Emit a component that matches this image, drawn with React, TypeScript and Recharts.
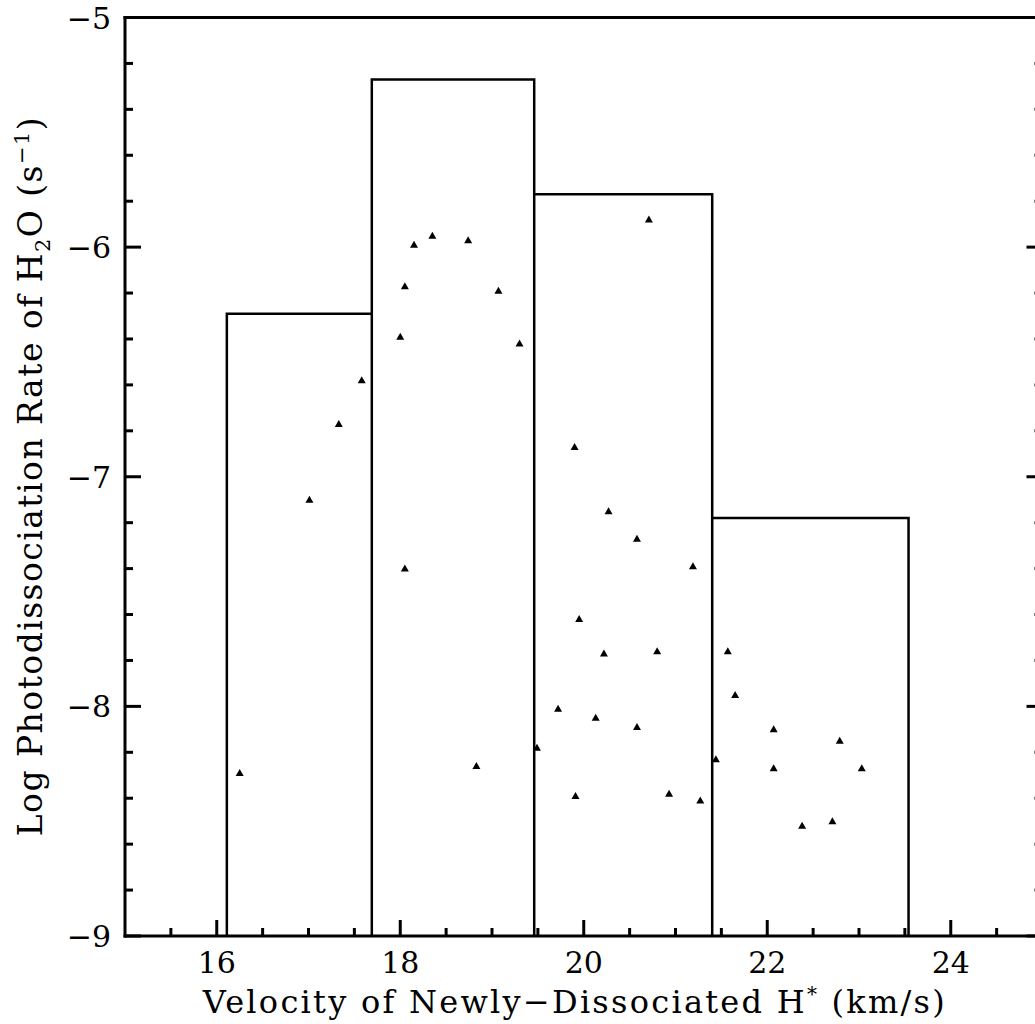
import { ComposedChart, Line, Scatter, XAxis, YAxis } from "recharts";

// histogram bins (km/s) and their log rates
const BIN_EDGES = [16.11, 17.69, 19.46, 21.4, 23.54];
const BIN_RATES = [-6.29, -5.27, -5.77, -7.18];

// individual transitions
const VELOCITY = [
  16.25, 17.01, 17.33, 17.58, 18.0, 18.05, 18.15, 18.35, 18.74, 19.07, 19.3,
  20.71, 18.05, 19.9, 20.27, 20.58, 19.95, 20.22, 20.8, 21.19, 21.57, 18.83,
  19.49, 19.72, 20.13, 20.58, 19.91, 20.93, 21.27, 21.44, 21.65, 22.07, 22.07,
  22.38, 22.71, 22.79, 23.03,
];
const LOG_RATE = [
  -8.29, -7.1, -6.77, -6.58, -6.39, -6.17, -5.99, -5.95, -5.97, -6.19, -6.42,
  -5.88, -7.4, -6.87, -7.15, -7.27, -7.62, -7.77, -7.76, -7.39, -7.76, -8.26,
  -8.18, -8.01, -8.05, -8.09, -8.39, -8.38, -8.41, -8.23, -7.95, -8.1, -8.27,
  -8.52, -8.5, -8.15, -8.27,
];

const X_TICKS = [
  15.5, 16, 16.5, 17, 17.5, 18, 18.5, 19, 19.5, 20, 20.5, 21, 21.5, 22, 22.5,
  23, 23.5, 24, 24.5,
];
const X_LABELS = [16, 18, 20, 22, 24];
const Y_TICKS = [
  -9, -8.8, -8.6, -8.4, -8.2, -8, -7.8, -7.6, -7.4, -7.2, -7, -6.8, -6.6, -6.4,
  -6.2, -6, -5.8, -5.6, -5.4, -5.2, -5,
];
const Y_LABELS = [-9, -8, -7, -6, -5];

const outline: { x: number; y: number }[] = [];
BIN_RATES.forEach((r, i) => {
  outline.push({ x: BIN_EDGES[i], y: -9 });
  outline.push({ x: BIN_EDGES[i], y: r });
  outline.push({ x: BIN_EDGES[i + 1], y: r });
  outline.push({ x: BIN_EDGES[i + 1], y: -9 });
});

const points = VELOCITY.map((v, i) => ({ x: v, y: LOG_RATE[i] }));

const FONT = "'DejaVu Serif', serif";
const MAJOR = 16;
const MINOR = 8;
const axisLine = { stroke: "#000", strokeWidth: 3, strokeLinecap: "square" as const };

const fmt = (v: number) => (v < 0 ? "\u2212" + Math.abs(v) : String(v));

function BottomTick({ x, y, payload }: any) {
  const v = payload.value;
  const major = X_LABELS.includes(v);
  return (
    <g>
      <line x1={x} x2={x} y1={y} y2={y - (major ? MAJOR : MINOR)} stroke="#000" strokeWidth={3} />
      {major && (
        <text x={x} y={y + 37} textAnchor="middle" fontFamily={FONT} fontSize={30} fill="#000">
          {v}
        </text>
      )}
    </g>
  );
}

function TopTick({ x, y, payload }: any) {
  const major = X_LABELS.includes(payload.value);
  return <line x1={x} x2={x} y1={y} y2={y + (major ? MAJOR : MINOR)} stroke="#000" strokeWidth={3} />;
}

function LeftTick({ x, y, payload }: any) {
  const v = payload.value;
  const major = Y_LABELS.includes(v);
  return (
    <g>
      <line x1={x} x2={x + (major ? MAJOR : MINOR)} y1={y} y2={y} stroke="#000" strokeWidth={3} />
      {major && (
        <text x={x - 14} y={y + 11} textAnchor="end" fontFamily={FONT} fontSize={30} fill="#000">
          {fmt(v)}
        </text>
      )}
    </g>
  );
}

function RightTick({ x, y, payload }: any) {
  const major = Y_LABELS.includes(payload.value);
  return <line x1={x} x2={x - (major ? MAJOR : MINOR)} y1={y} y2={y} stroke="#000" strokeWidth={3} />;
}

function Triangle({ cx, cy }: any) {
  return <path d={`M${cx},${cy - 4}L${cx + 4},${cy + 3}L${cx - 4},${cy + 3}Z`} fill="#000" />;
}

function XTitle({ viewBox }: any) {
  const x = viewBox.x + viewBox.width / 2 - 10;
  const y = viewBox.y + 77;
  return (
    <text x={x} y={y} textAnchor="middle" fontFamily={FONT} fontSize={32} fill="#000" textLength={742}>
      Velocity of Newly{"\u2212"}Dissociated H
      <tspan fontSize={20} dy={-12}>*</tspan>
      <tspan dy={12}> (km/s)</tspan>
    </text>
  );
}

function YTitle({ viewBox }: any) {
  const x = viewBox.x - 23;
  const y = viewBox.y + viewBox.height / 2;
  return (
    <text
      x={x}
      y={y}
      transform={`rotate(-90, ${x}, ${y})`}
      textAnchor="middle"
      fontFamily={FONT}
      fontSize={33}
      fill="#000"
      textLength={719}
    >
      Log Photodissociation Rate of H
      <tspan fontSize={21} dy={8}>2</tspan>
      <tspan dy={-8}>O (s</tspan>
      <tspan fontSize={21} dy={-13}>{"\u2212"}1</tspan>
      <tspan dy={13}>)</tspan>
    </text>
  );
}

export default function App() {
  return (
    <div
      style={{
        position: "absolute",
        left: 0,
        top: 0,
        width: 1035,
        height: 1024,
        overflow: "hidden",
        background: "#fff",
      }}
    >
      <ComposedChart
        width={1060}
        height={1024}
        data={outline}
        margin={{ top: 12.5, right: 7.5, bottom: 28, left: 65 }}
      >
        <XAxis
          dataKey="x"
          type="number"
          domain={[15, 25]}
          allowDataOverflow
          ticks={X_TICKS}
          interval={0}
          tickSize={0}
          tickMargin={0}
          tickLine={false}
          axisLine={axisLine}
          tick={(p: any) => <BottomTick {...p} />}
          height={60}
          label={{ content: (p: any) => <XTitle {...p} /> }}
        />
        <XAxis
          xAxisId="top"
          orientation="top"
          type="number"
          domain={[15, 25]}
          allowDataOverflow
          ticks={X_TICKS}
          interval={0}
          tickSize={0}
          tickMargin={0}
          tickLine={false}
          axisLine={axisLine}
          tick={(p: any) => <TopTick {...p} />}
          height={5}
        />
        <YAxis
          dataKey="y"
          type="number"
          domain={[-9, -5]}
          allowDataOverflow
          ticks={Y_TICKS}
          interval={0}
          tickSize={0}
          tickMargin={0}
          tickLine={false}
          axisLine={axisLine}
          tick={(p: any) => <LeftTick {...p} />}
          width={60}
          label={{ content: (p: any) => <YTitle {...p} /> }}
        />
        <YAxis
          yAxisId="right"
          orientation="right"
          type="number"
          domain={[-9, -5]}
          allowDataOverflow
          ticks={Y_TICKS}
          interval={0}
          tickSize={0}
          tickMargin={0}
          tickLine={false}
          axisLine={axisLine}
          tick={(p: any) => <RightTick {...p} />}
          width={10}
        />
        <Line
          dataKey="y"
          type="linear"
          stroke="#000"
          strokeWidth={2.5}
          dot={false}
          activeDot={false}
          isAnimationActive={false}
        />
        <Scatter
          data={points}
          dataKey="y"
          fill="#000"
          shape={(p: any) => <Triangle {...p} />}
          isAnimationActive={false}
        />
      </ComposedChart>
    </div>
  );
}
